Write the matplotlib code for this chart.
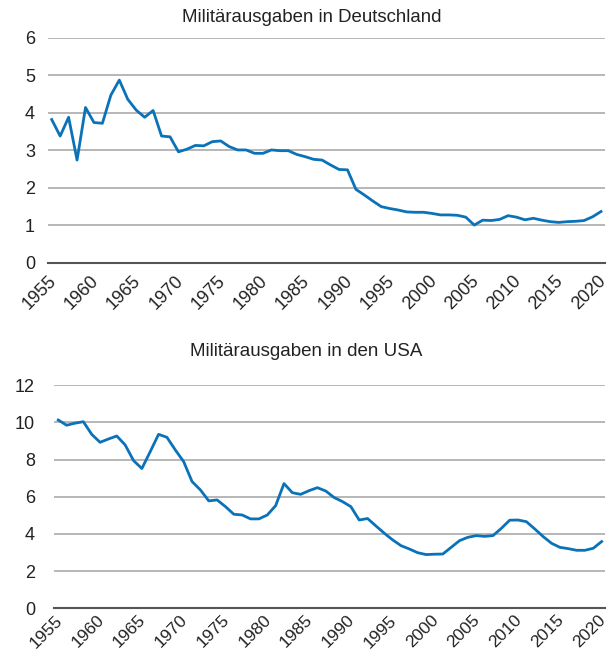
import numpy as np
import matplotlib
matplotlib.use('Agg')
from matplotlib import pyplot as plt
from matplotlib.transforms import ScaledTranslation

plt.rcParams['font.family'] = ['Liberation Sans', 'DejaVu Sans']

years = list(range(1955, 2021))

# Militaerausgaben Deutschland (% des BIP)
de_values = [3.82, 3.38, 3.88, 2.74, 4.14, 3.74, 3.72, 4.47, 4.87, 4.36,
             4.07, 3.88, 4.06, 3.38, 3.36, 2.96, 3.03, 3.13, 3.12, 3.23,
             3.25, 3.10, 3.01, 3.01, 2.92, 2.92, 3.01, 2.99, 2.99, 2.89,
             2.83, 2.76, 2.74, 2.61, 2.49, 2.48, 1.96, 1.81, 1.65, 1.50,
             1.45, 1.41, 1.36, 1.35, 1.35, 1.32, 1.28, 1.28, 1.27, 1.22,
             1.01, 1.14, 1.13, 1.16, 1.26, 1.22, 1.15, 1.19, 1.14, 1.10,
             1.08, 1.10, 1.11, 1.13, 1.23, 1.37]

# Militaerausgaben USA (% des BIP)
us_values = [10.13, 9.85, 9.96, 10.04, 9.36, 8.93, 9.11, 9.27, 8.79, 7.95,
             7.52, 8.43, 9.36, 9.20, 8.52, 7.89, 6.82, 6.37, 5.78, 5.83,
             5.47, 5.06, 5.02, 4.81, 4.81, 5.02, 5.52, 6.71, 6.22, 6.13,
             6.33, 6.49, 6.31, 5.96, 5.74, 5.47, 4.75, 4.83, 4.43, 4.04,
             3.68, 3.37, 3.19, 2.99, 2.89, 2.91, 2.92, 3.28, 3.64, 3.82,
             3.91, 3.87, 3.91, 4.30, 4.74, 4.75, 4.66, 4.27, 3.86, 3.50,
             3.28, 3.21, 3.12, 3.12, 3.23, 3.59]

xticks = list(range(1955, 2021, 5))
de_yticks = [0, 1, 2, 3, 4, 5, 6]
us_yticks = [0, 2, 4, 6, 8, 10, 12]

LINE = '#0a72b8'
TXT = '#222222'

fig = plt.figure(figsize=(6.09, 6.54), dpi=100)
ax1 = fig.add_axes([0.0788, 0.5979, 0.9146, 0.3445])
ax2 = fig.add_axes([0.0887, 0.0699, 0.9047, 0.3410])


def style(ax, values, yticks, xlim, ypad, xpad, fs):
    ax.plot(years, values, color=LINE, linewidth=2.0)
    ax.set_xlim(*xlim)
    ax.set_ylim(yticks[0], yticks[-1])
    ax.set_yticks(yticks)
    ax.set_xticks(xticks)
    ax.set_xticklabels([str(x) for x in xticks], rotation=45, ha='right',
                       rotation_mode='anchor', fontsize=fs, color=TXT)
    ax.set_yticklabels([str(y) for y in yticks], fontsize=13, color=TXT)
    ax.tick_params(length=0)
    ax.tick_params(axis='y', pad=ypad)
    ax.tick_params(axis='x', pad=xpad)
    shift = ScaledTranslation(-4 / 100, 0, fig.dpi_scale_trans)
    for lab in ax.get_xticklabels():
        lab.set_transform(lab.get_transform() + shift)
    ax.grid(axis='y', color='#aaaaaa', linewidth=1.2)
    ax.set_axisbelow(True)
    for s in ['top', 'right', 'left']:
        ax.spines[s].set_visible(False)
    ax.spines['bottom'].set_color('#555555')
    ax.spines['bottom'].set_linewidth(1.5)


style(ax1, de_values, de_yticks, (1954.56, 2020.47), 9.4, 7, 13)
style(ax2, us_values, us_yticks, (1954.49, 2020.4), 13.7, 3, 12.5)

fig.text(0.512, 0.974, 'Militärausgaben in Deutschland', ha='center', va='center',
         fontsize=13.4, color=TXT)
fig.text(0.503, 0.463, 'Militärausgaben in den USA', ha='center', va='center',
         fontsize=13.5, color=TXT)

plt.savefig('out.png', dpi=100)
